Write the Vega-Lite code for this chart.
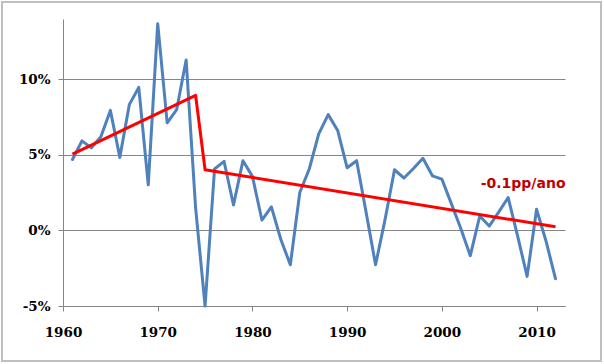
{
  "$schema": "https://vega.github.io/schema/vega-lite/v6.json",
  "width": 599,
  "height": 359,
  "autosize": {"type": "none"},
  "padding": {"left": 2, "top": 2, "right": 3, "bottom": 3},
  "background": "white",
  "config": {
    "view": {"stroke": "#BFBFBF", "strokeWidth": 2},
    "axis": {
      "labelFont": "DejaVu Serif",
      "labelFontWeight": "bold",
      "labelFontSize": 13.5,
      "labelColor": "#000000",
      "domainColor": "#868686",
      "tickColor": "#868686",
      "gridColor": "#868686",
      "title": null
    }
  },
  "datasets": {
    "series": [
      {"year": 1961, "value": 4.7},
      {"year": 1962, "value": 5.93},
      {"year": 1963, "value": 5.47},
      {"year": 1964, "value": 6.2},
      {"year": 1965, "value": 7.95},
      {"year": 1966, "value": 4.84},
      {"year": 1967, "value": 8.33},
      {"year": 1968, "value": 9.47},
      {"year": 1969, "value": 3.02},
      {"year": 1970, "value": 13.69},
      {"year": 1971, "value": 7.13},
      {"year": 1972, "value": 8.0},
      {"year": 1973, "value": 11.29},
      {"year": 1974, "value": 1.5},
      {"year": 1975, "value": -8.2},
      {"year": 1976, "value": 4.07},
      {"year": 1977, "value": 4.58},
      {"year": 1978, "value": 1.69},
      {"year": 1979, "value": 4.62},
      {"year": 1980, "value": 3.58},
      {"year": 1981, "value": 0.69},
      {"year": 1982, "value": 1.56},
      {"year": 1983, "value": -0.6},
      {"year": 1984, "value": -2.27},
      {"year": 1985, "value": 2.51},
      {"year": 1986, "value": 4.07},
      {"year": 1987, "value": 6.4},
      {"year": 1988, "value": 7.67},
      {"year": 1989, "value": 6.62},
      {"year": 1990, "value": 4.15},
      {"year": 1991, "value": 4.62},
      {"year": 1992, "value": 1.2},
      {"year": 1993, "value": -2.27},
      {"year": 1994, "value": 0.72},
      {"year": 1995, "value": 4.02},
      {"year": 1996, "value": 3.47},
      {"year": 1997, "value": 4.1},
      {"year": 1998, "value": 4.78},
      {"year": 1999, "value": 3.62},
      {"year": 2000, "value": 3.4},
      {"year": 2001, "value": 1.78},
      {"year": 2002, "value": 0.13},
      {"year": 2003, "value": -1.67},
      {"year": 2004, "value": 0.96},
      {"year": 2005, "value": 0.29},
      {"year": 2006, "value": 1.22},
      {"year": 2007, "value": 2.18},
      {"year": 2008, "value": -0.38},
      {"year": 2009, "value": -3.04},
      {"year": 2010, "value": 1.4},
      {"year": 2011, "value": -0.71},
      {"year": 2012, "value": -3.2}
    ],
    "trend": [
      {"year": 1961, "value": 5.05},
      {"year": 1974, "value": 8.95},
      {"year": 1975, "value": 4.02},
      {"year": 2012, "value": 0.24}
    ],
    "note": [
      {"year": 2004.1, "value": 3.1, "label": "-0.1pp/ano"}
    ]
  },
  "layer": [
    {
      "data": {"name": "series"},
      "mark": {"type": "line", "color": "#4F81BD", "strokeWidth": 3, "strokeJoin": "round", "strokeCap": "round"},
      "encoding": {
        "x": {
          "field": "year", "type": "quantitative",
          "scale": {"domain": [1960, 2013], "range": [61, 563], "nice": false, "zero": false},
          "axis": {
            "values": [1960, 1970, 1980, 1990, 2000, 2010],
            "format": "d",
            "grid": false,
            "tickSize": 5,
            "labelPadding": 14,
            "offset": -55,
            "labelFlush": false,
            "labelOverlap": false
          }
        },
        "y": {
          "field": "value", "type": "quantitative",
          "scale": {"domain": [-5, 14], "range": [304, 17], "nice": false, "zero": false, "clamp": true},
          "axis": {
            "values": [-5, 0, 5, 10],
            "labelExpr": "datum.value + '%'",
            "grid": true,
            "tickSize": 5,
            "labelPadding": 8,
            "offset": -61,
            "labelFlush": false,
            "labelOverlap": false
          }
        }
      }
    },
    {
      "data": {"name": "trend"},
      "mark": {"type": "line", "color": "#FF0000", "strokeWidth": 3, "strokeJoin": "round"},
      "encoding": {
        "x": {"field": "year", "type": "quantitative"},
        "y": {"field": "value", "type": "quantitative"}
      }
    },
    {
      "data": {"name": "note"},
      "mark": {"type": "text", "align": "left", "baseline": "middle", "font": "DejaVu Sans", "fontWeight": "bold", "fontSize": 14, "color": "#C00000"},
      "encoding": {
        "x": {"field": "year", "type": "quantitative"},
        "y": {"field": "value", "type": "quantitative"},
        "text": {"field": "label"}
      }
    }
  ]
}
